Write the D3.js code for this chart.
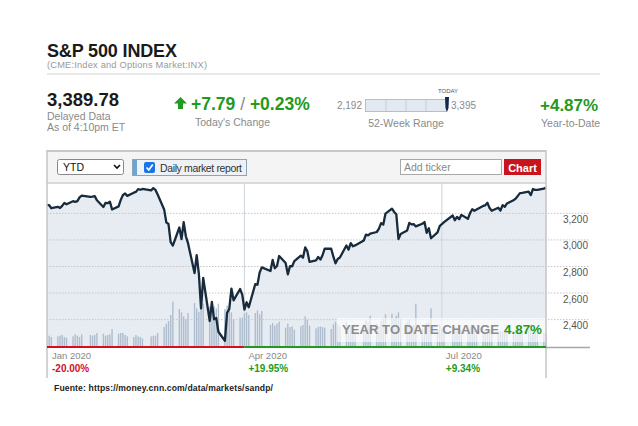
<!DOCTYPE html>
<html>
<head>
<meta charset="utf-8">
<script src="https://cdn.jsdelivr.net/npm/d3@7"></script>
<style>
  body { margin: 0; background: #fff; }
  svg { display: block; font-family: Arial, "Liberation Sans", sans-serif; }
</style>
</head>
<body>
<svg id="chart"></svg>
<script>
// trading days, Jan 2 - Aug 18 2020
let dates = [
  "01-02","01-03","01-06","01-07","01-08","01-09","01-10","01-13","01-14","01-15","01-16","01-17","01-21","01-22","01-23","01-24","01-27","01-28","01-29","01-30","01-31",
  "02-03","02-04","02-05","02-06","02-07","02-10","02-11","02-12","02-13","02-14","02-18","02-19","02-20","02-21","02-24","02-25","02-26","02-27","02-28",
  "03-02","03-03","03-04","03-05","03-06","03-09","03-10","03-11","03-12","03-13","03-16","03-17","03-18","03-19","03-20","03-23","03-24","03-25","03-26","03-27","03-30","03-31",
  "04-01","04-02","04-03","04-06","04-07","04-08","04-09","04-13","04-14","04-15","04-16","04-17","04-20","04-21","04-22","04-23","04-24","04-27","04-28","04-29","04-30",
  "05-01","05-04","05-05","05-06","05-07","05-08","05-11","05-12","05-13","05-14","05-15","05-18","05-19","05-20","05-21","05-22","05-26","05-27","05-28","05-29",
  "06-01","06-02","06-03","06-04","06-05","06-08","06-09","06-10","06-11","06-12","06-15","06-16","06-17","06-18","06-19","06-22","06-23","06-24","06-25","06-26","06-29","06-30",
  "07-01","07-02","07-06","07-07","07-08","07-09","07-10","07-13","07-14","07-15","07-16","07-17","07-20","07-21","07-22","07-23","07-24","07-27","07-28","07-29","07-30","07-31",
  "08-03","08-04","08-05","08-06","08-07","08-10","08-11","08-12","08-13","08-14","08-17","08-18"
];
let closes = [
  3258,3235,3246,3237,3253,3275,3265,3288,3283,3289,3317,3330,3321,3322,3326,3295,3244,3276,3273,3284,3226,
  3249,3298,3335,3346,3328,3352,3358,3379,3374,3380,3370,3386,3373,3338,3226,3128,3116,2979,2954,
  3090,3003,3130,3024,2972,2747,2882,2741,2481,2711,2386,2529,2398,2409,2305,2237,2447,2476,2630,2541,2627,2585,
  2471,2527,2489,2664,2659,2750,2790,2762,2846,2783,2800,2875,2823,2737,2799,2798,2837,2878,2863,2940,2912,
  2831,2843,2868,2848,2881,2930,2930,2870,2820,2853,2864,2954,2923,2972,2949,2955,2992,3036,3030,3044,
  3056,3081,3123,3112,3194,3232,3207,3190,3002,3041,3067,3125,3113,3115,3098,3118,3131,3050,3084,3009,3053,3100,
  3116,3130,3180,3145,3170,3152,3185,3155,3198,3227,3216,3225,3252,3257,3276,3236,3216,3239,3218,3258,3246,3271,
  3295,3307,3328,3349,3351,3360,3334,3380,3373,3373,3382,3390
];
// volume, billions of shares
let volumes = [
  3.5,3.3,3.4,3.5,3.6,3.3,3.2,3.4,3.7,3.5,3.3,3.7,3.6,3.5,3.6,3.9,3.8,3.5,3.6,3.7,4.5,
  3.8,3.9,3.9,3.6,3.4,3.3,3.6,3.4,3.3,3.1,3.4,3.5,3.5,3.9,4.8,5.3,5.7,6.6,8.6,
  7.5,7.0,6.4,6.0,6.9,8.4,7.6,7.1,8.8,8.3,7.9,8.0,7.9,7.6,8.3,7.5,8.0,7.3,7.0,6.0,6.2,6.2,
  6.8,7.0,6.6,6.9,7.3,6.7,7.2,5.1,5.4,5.0,5.3,5.6,4.7,5.3,4.8,4.9,4.4,4.9,5.1,6.4,5.9,
  5.0,4.6,4.8,4.9,4.8,4.7,4.5,5.2,5.6,5.2,4.9,5.6,4.7,4.8,4.6,4.1,5.2,6.0,5.5,6.5,
  5.3,5.0,5.7,6.1,6.7,6.8,6.1,6.5,7.0,6.0,5.6,5.9,4.8,5.1,8.3,4.6,4.9,5.4,5.5,7.6,4.5,5.2,
  4.5,4.0,4.8,4.5,4.3,4.7,4.3,5.1,4.8,4.8,4.4,4.2,4.0,4.4,4.1,4.3,4.0,4.0,4.2,4.1,4.4,5.0,
  4.3,4.4,4.7,4.2,4.1,4.4,5.2,4.3,3.9,3.8,3.9,4.0
];
let priceTicks = [2400, 2600, 2800, 3000, 3200];
let quarterStarts = ["2020-01-01", "2020-04-01", "2020-07-01"];
let quarterLabels = ["Jan 2020", "Apr 2020", "Jul 2020"];
let quarterChanges = ["-20.00%", "+19.95%", "+9.34%"];

let w = 638;
let h = 426;
let plot = { left: 47, right: 546, top: 183, bottom: 347 };
let green = "#1f9a22";
let red = "#d40f1f";

let parseDay = d3.timeParse("%Y-%m-%d");
let data = dates.map((d, i) => ({ date: parseDay("2020-" + d), close: closes[i], vol: volumes[i] }));

let svg = d3.select("#chart").attr("width", w).attr("height", h);

// ---- header ----
let drawHeader = () => {
  svg.append("text").attr("x", 47).attr("y", 57).attr("font-size", 18).attr("font-weight", "bold")
    .attr("fill", "#1a1a1a").attr("textLength", 130).text("S&P 500 INDEX");
  svg.append("text").attr("x", 47).attr("y", 68).attr("font-size", 9.3).attr("fill", "#999")
    .attr("textLength", 160).text("(CME:Index and Options Market:INX)");
  svg.append("line").attr("x1", 47).attr("x2", 600).attr("y1", 74).attr("y2", 74)
    .attr("stroke", "#e2e2e2").attr("stroke-width", 1.5);

  svg.append("text").attr("x", 47).attr("y", 106).attr("font-size", 18.5).attr("font-weight", "bold")
    .attr("fill", "#1a1a1a").text("3,389.78");
  svg.append("text").attr("x", 47).attr("y", 120).attr("font-size", 10.5).attr("fill", "#8a8a8a").text("Delayed Data");
  svg.append("text").attr("x", 47).attr("y", 131).attr("font-size", 10.5).attr("fill", "#8a8a8a").text("As of 4:10pm ET");

  // up arrow
  svg.append("path").attr("d", "M180.5,97 L187,103.5 L183,103.5 L183,109 L178,109 L178,103.5 L174,103.5 Z").attr("fill", green);
  let ch = svg.append("text").attr("x", 191).attr("y", 109.5).attr("font-size", 17.5).attr("font-weight", "bold");
  ch.append("tspan").attr("fill", green).text("+7.79");
  ch.append("tspan").attr("fill", "#888").attr("font-weight", "normal").text(" / ");
  ch.append("tspan").attr("fill", green).text("+0.23%");
  svg.append("text").attr("x", 195).attr("y", 126).attr("font-size", 10.5).attr("fill", "#8a8a8a").text("Today's Change");

  // 52-week range
  svg.append("text").attr("x", 362).attr("y", 109).attr("text-anchor", "end").attr("font-size", 10).attr("fill", "#8a8a8a").text("2,192");
  svg.append("rect").attr("x", 365.5).attr("y", 99.5).attr("width", 81).attr("height", 12)
    .attr("fill", "#e3e9f1").attr("stroke", "#b4bfcc");
  [386, 406, 426].forEach((x) => {
    svg.append("line").attr("x1", x).attr("x2", x).attr("y1", 100).attr("y2", 111).attr("stroke", "#c3ccd7");
  });
  svg.append("path").attr("d", "M445,97 L449,97 L448.5,108 L447,112 L445.5,108 Z").attr("fill", "#13294b");
  svg.append("text").attr("x", 448).attr("y", 93).attr("text-anchor", "middle").attr("font-size", 6).attr("fill", "#555").text("TODAY");
  svg.append("text").attr("x", 451).attr("y", 109).attr("font-size", 10).attr("fill", "#8a8a8a").text("3,395");
  svg.append("text").attr("x", 406).attr("y", 127).attr("text-anchor", "middle").attr("font-size", 10.5).attr("fill", "#8a8a8a").text("52-Week Range");

  svg.append("text").attr("x", 540).attr("y", 110.5).attr("font-size", 17).attr("font-weight", "bold").attr("fill", green).text("+4.87%");
  svg.append("text").attr("x", 541).attr("y", 127).attr("font-size", 10.5).attr("fill", "#8a8a8a").text("Year-to-Date");
};

// ---- toolbar ----
let drawToolbar = () => {
  svg.append("rect").attr("x", plot.left).attr("y", 151).attr("width", plot.right - plot.left).attr("height", plot.top - 151)
    .attr("fill", "#f4f4f4");
  svg.append("line").attr("x1", plot.left).attr("x2", plot.right).attr("y1", 151).attr("y2", 151).attr("stroke", "#c8c8c8").attr("stroke-width", 2);
  svg.append("line").attr("x1", plot.left).attr("x2", plot.right).attr("y1", plot.top).attr("y2", plot.top).attr("stroke", "#cfcfcf").attr("stroke-width", 1.5);

  // select
  svg.append("rect").attr("x", 57.5).attr("y", 159.5).attr("width", 66).attr("height", 15).attr("rx", 2)
    .attr("fill", "#fff").attr("stroke", "#888");
  svg.append("text").attr("x", 63).attr("y", 171).attr("font-size", 10.5).attr("fill", "#111").text("YTD");
  svg.append("path").attr("d", "M114,165 L117,168 L120,165").attr("fill", "none").attr("stroke", "#111").attr("stroke-width", 1.6);

  // daily market report toggle
  svg.append("rect").attr("x", 132.5).attr("y", 159.5).attr("width", 114).attr("height", 16)
    .attr("fill", "#eef1f5").attr("stroke", "#8fa3b8");
  svg.append("rect").attr("x", 133).attr("y", 160).attr("width", 4).attr("height", 15).attr("fill", "#6aa6d4");
  svg.append("rect").attr("x", 144).attr("y", 162).attr("width", 11).attr("height", 11).attr("rx", 2).attr("fill", "#1a73e8");
  svg.append("path").attr("d", "M146.5,167.5 L148.8,170 L152.8,164.5").attr("fill", "none").attr("stroke", "#fff").attr("stroke-width", 1.7);
  svg.append("text").attr("x", 160).attr("y", 171.5).attr("font-size", 10.5).attr("fill", "#333")
    .attr("textLength", 82).text("Daily market report");

  // ticker input + button
  svg.append("rect").attr("x", 400.5).attr("y", 159.5).attr("width", 101).attr("height", 15).attr("fill", "#fff").attr("stroke", "#a8a8a8");
  svg.append("text").attr("x", 404).attr("y", 171).attr("font-size", 10.5).attr("fill", "#888").text("Add ticker");
  svg.append("rect").attr("x", 504).attr("y", 159).attr("width", 37).attr("height", 16).attr("fill", "#c8141c");
  svg.append("text").attr("x", 522.5).attr("y", 171.5).attr("text-anchor", "middle").attr("font-size", 11).attr("font-weight", "bold")
    .attr("fill", "#fff").text("Chart");
};

let x, y, yVol;
let generateScales = () => {
  x = d3.scaleTime().domain([parseDay("2020-01-01"), parseDay("2020-08-18")]).range([plot.left, plot.right]);
  y = d3.scaleLinear().domain([2190, 3425]).range([plot.bottom, plot.top]);
  yVol = d3.scaleLinear().domain([1.8, 9]).range([plot.bottom, plot.bottom - 48]);
};

let drawPlot = () => {
  let area = d3.area().x((d) => x(d.date)).y0(plot.bottom).y1((d) => y(d.close));
  let areaData = [{ date: x.domain()[0], close: closes[0] }].concat(data);
  svg.append("path").datum(areaData).attr("d", area).attr("fill", "#e7ecf2");

  // quarter separators
  svg.selectAll(".qline").data(quarterStarts.slice(1)).enter().append("line")
    .attr("x1", (d) => x(parseDay(d))).attr("x2", (d) => x(parseDay(d)))
    .attr("y1", plot.top).attr("y2", plot.bottom).attr("stroke", "#d3d8de").attr("stroke-width", 1.2);

  // volume bars
  svg.selectAll(".vol").data(data).enter().append("rect")
    .attr("x", (d) => x(d.date) - 0.7).attr("width", 1.4)
    .attr("y", (d) => yVol(d.vol)).attr("height", (d) => plot.bottom - yVol(d.vol))
    .attr("fill", "#aebdce");

  // price grid + labels on right
  let yAxis = d3.axisRight(y).tickValues(priceTicks).tickSize(plot.right - plot.left + 44)
    .tickFormat(d3.format(","));
  let g = svg.append("g").attr("transform", `translate(${plot.left},0)`).call(yAxis);
  g.select(".domain").remove();
  g.selectAll(".tick line").attr("stroke", "#c6c6c6").attr("stroke-dasharray", "1.5,1.5");
  g.selectAll(".tick text").attr("x", plot.right - plot.left + 42).attr("dy", 9.5).attr("text-anchor", "end")
    .attr("font-size", 10).attr("fill", "#555").attr("font-family", "Arial, 'Liberation Sans', sans-serif");

  // price line
  let line = d3.line().x((d) => x(d.date)).y((d) => y(d.close));
  svg.append("path").datum(areaData).attr("d", line).attr("fill", "none")
    .attr("stroke", "#182b3c").attr("stroke-width", 2.3).attr("stroke-linejoin", "round");

  // YTD overlay
  svg.append("rect").attr("x", 337).attr("y", 318).attr("width", plot.right - 337).attr("height", 24)
    .attr("fill", "#fff").attr("opacity", 0.62);
  svg.append("text").attr("x", 342).attr("y", 333.5).attr("font-size", 13.5).attr("font-weight", "bold")
    .attr("fill", "#8d8d8d").attr("textLength", 157).attr("lengthAdjust", "spacingAndGlyphs").text("YEAR TO DATE CHANGE");
  svg.append("text").attr("x", 504).attr("y", 333.5).attr("font-size", 13.5).attr("font-weight", "bold")
    .attr("fill", green).attr("textLength", 38).attr("lengthAdjust", "spacingAndGlyphs").text("4.87%");
};

let drawBottom = () => {
  // frame sides
  [plot.left, plot.right].forEach((xx) => {
    svg.append("line").attr("x1", xx).attr("x2", xx).attr("y1", 150).attr("y2", 378).attr("stroke", "#c4c4c4").attr("stroke-width", 1.5);
  });
  svg.append("line").attr("x1", plot.right).attr("x2", 590).attr("y1", plot.bottom + 0.5).attr("y2", plot.bottom + 0.5)
    .attr("stroke", "#a8a8a8").attr("stroke-width", 1.5);
  let q = quarterStarts.map((d) => x(parseDay(d)));
  let ends = q.slice(1).concat([plot.right]);
  q.forEach((x0, i) => {
    let up = quarterChanges[i][0] === "+";
    svg.append("line").attr("x1", x0).attr("x2", ends[i]).attr("y1", plot.bottom).attr("y2", plot.bottom)
      .attr("stroke", up ? green : red).attr("stroke-width", 2);
    let tx = i === 0 ? x0 + 5 : x0 + 4;
    svg.append("text").attr("x", tx).attr("y", 358.5).attr("font-size", 9.5).attr("fill", "#888").text(quarterLabels[i]);
    svg.append("text").attr("x", tx).attr("y", 371.5).attr("font-size", 10).attr("font-weight", "bold")
      .attr("fill", up ? green : red).text(quarterChanges[i]);
  });

  svg.append("text").attr("x", 54).attr("y", 390.5).attr("font-size", 8.6).attr("font-weight", "bold").attr("fill", "#222")
    .attr("textLength", 219).text("Fuente: https://money.cnn.com/data/markets/sandp/");
};

generateScales();
drawHeader();
drawToolbar();
drawPlot();
drawBottom();
</script>
</body>
</html>
